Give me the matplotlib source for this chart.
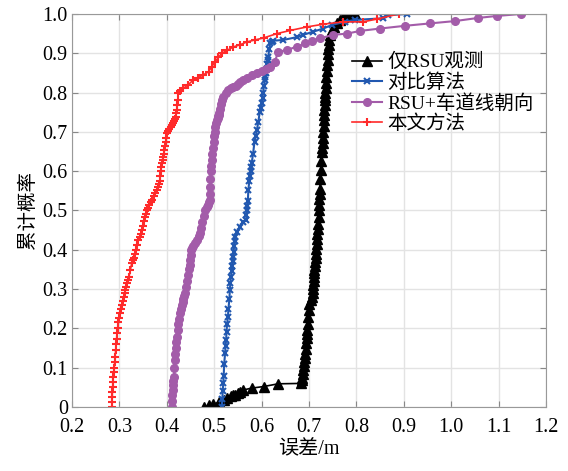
import matplotlib
matplotlib.use("Agg")
import matplotlib.pyplot as plt

plt.rcParams['font.family'] = ['Liberation Serif', 'Noto Sans CJK SC', 'DejaVu Sans']
plt.rcParams['axes.unicode_minus'] = False

# CDF curves (error in m, cumulative probability)
blk_x = [0.478, 0.490, 0.498, 0.510, 0.520, 0.526, 0.535, 0.540, 0.544, 0.550,
         0.554, 0.560, 0.579, 0.604, 0.635, 0.684, 0.685, 0.686, 0.687, 0.688,
         0.689, 0.690, 0.691, 0.692, 0.693, 0.694, 0.695, 0.695, 0.696, 0.697,
         0.698, 0.699, 0.701, 0.704, 0.706, 0.708, 0.709, 0.709, 0.710, 0.711,
         0.711, 0.711, 0.712, 0.713, 0.714, 0.714, 0.715, 0.716, 0.717, 0.717,
         0.718, 0.719, 0.720, 0.721, 0.722, 0.722, 0.723, 0.723, 0.724, 0.725,
         0.726, 0.727, 0.728, 0.729, 0.730, 0.730, 0.731, 0.731, 0.732, 0.732,
         0.733, 0.733, 0.734, 0.734, 0.735, 0.735, 0.736, 0.737, 0.738, 0.739,
         0.740, 0.741, 0.742, 0.743, 0.745, 0.748, 0.753, 0.758, 0.765, 0.772,
         0.780, 0.790, 0.797]
blk_p = [0.0, 0.004, 0.007, 0.012, 0.018, 0.022, 0.027, 0.030, 0.031, 0.036,
         0.039, 0.043, 0.048, 0.052, 0.059, 0.060, 0.068, 0.075, 0.085, 0.094,
         0.105, 0.115, 0.125, 0.135, 0.148, 0.162, 0.175, 0.185, 0.197, 0.21,
         0.228, 0.247, 0.262, 0.272, 0.281, 0.289, 0.30, 0.31, 0.32, 0.33,
         0.34, 0.349, 0.36, 0.37, 0.38, 0.39, 0.403, 0.416, 0.428, 0.44,
         0.452, 0.465, 0.483, 0.501, 0.515, 0.53, 0.543, 0.555, 0.58, 0.603,
         0.625, 0.65, 0.66, 0.671, 0.685, 0.70, 0.715, 0.73, 0.743, 0.756,
         0.768, 0.78, 0.79, 0.80, 0.812, 0.824, 0.84, 0.855, 0.87, 0.883,
         0.897, 0.91, 0.922, 0.934, 0.947, 0.959, 0.968, 0.976, 0.985, 0.993,
         0.996, 0.998, 1.0]

blu_x = [0.516, 0.517, 0.518, 0.519, 0.520, 0.521, 0.523, 0.524, 0.525, 0.526,
         0.527, 0.529, 0.530, 0.532, 0.533, 0.534, 0.535, 0.537, 0.538, 0.539,
         0.540, 0.541, 0.542, 0.543, 0.544, 0.549, 0.554, 0.560, 0.567, 0.568,
         0.569, 0.570, 0.571, 0.572, 0.574, 0.575, 0.577, 0.578, 0.579, 0.582,
         0.585, 0.588, 0.590, 0.593, 0.596, 0.598, 0.600, 0.602, 0.603, 0.605,
         0.607, 0.608, 0.609, 0.611, 0.612, 0.613, 0.614, 0.616, 0.618, 0.621,
         0.625, 0.646, 0.674, 0.688, 0.709, 0.730, 0.748, 0.775, 0.797, 0.857,
         0.867, 0.906]
blu_p = [0.0, 0.02, 0.04, 0.06, 0.08, 0.11, 0.137, 0.155, 0.17, 0.19,
         0.21, 0.23, 0.25, 0.275, 0.298, 0.315, 0.33, 0.345, 0.36, 0.372,
         0.382, 0.395, 0.41, 0.422, 0.433, 0.446, 0.459, 0.47, 0.476, 0.488,
         0.50, 0.512, 0.525, 0.552, 0.575, 0.587, 0.60, 0.61, 0.620, 0.645,
         0.675, 0.69, 0.705, 0.725, 0.75, 0.762, 0.773, 0.787, 0.80, 0.816,
         0.832, 0.84, 0.85, 0.861, 0.872, 0.882, 0.891, 0.91, 0.925, 0.929,
         0.932, 0.934, 0.941, 0.947, 0.955, 0.963, 0.972, 0.98, 0.985, 0.989,
         0.997, 1.0]

pur_x = [0.410, 0.410, 0.411, 0.412, 0.413, 0.414, 0.415, 0.416, 0.417, 0.418,
         0.419, 0.420, 0.421, 0.423, 0.424, 0.426, 0.428, 0.430, 0.432, 0.434,
         0.435, 0.437, 0.438, 0.440, 0.442, 0.444, 0.446, 0.448, 0.449, 0.451,
         0.452, 0.454, 0.456, 0.460, 0.463, 0.467, 0.470, 0.473, 0.475, 0.478,
         0.481, 0.484, 0.486, 0.489, 0.491, 0.491, 0.492, 0.492, 0.493, 0.494,
         0.495, 0.496, 0.497, 0.499, 0.500, 0.501, 0.502, 0.504, 0.505, 0.507,
         0.508, 0.510, 0.511, 0.513, 0.515, 0.517, 0.519, 0.524, 0.530, 0.535,
         0.540, 0.545, 0.550, 0.555, 0.561, 0.570, 0.580, 0.590, 0.600, 0.610,
         0.618, 0.628, 0.635, 0.653, 0.674, 0.692, 0.706, 0.723, 0.751, 0.780,
         0.808, 0.850, 0.903, 0.955, 1.008, 1.057, 1.096, 1.147]
pur_p = [0.0, 0.015, 0.03, 0.042, 0.055, 0.066, 0.077, 0.098, 0.12, 0.135,
         0.15, 0.165, 0.179, 0.195, 0.21, 0.224, 0.238, 0.249, 0.26, 0.268,
         0.275, 0.282, 0.289, 0.305, 0.32, 0.335, 0.35, 0.362, 0.374, 0.387,
         0.399, 0.404, 0.41, 0.418, 0.425, 0.434, 0.442, 0.456, 0.47, 0.486,
         0.501, 0.508, 0.515, 0.521, 0.527, 0.543, 0.56, 0.58, 0.60, 0.614,
         0.628, 0.644, 0.66, 0.675, 0.69, 0.70, 0.713, 0.722, 0.73, 0.735,
         0.74, 0.744, 0.747, 0.758, 0.77, 0.78, 0.790, 0.80, 0.807, 0.812,
         0.815, 0.818, 0.822, 0.827, 0.832, 0.838, 0.844, 0.849, 0.855, 0.861,
         0.866, 0.879, 0.904, 0.908, 0.917, 0.925, 0.932, 0.938, 0.947, 0.95,
         0.957, 0.963, 0.970, 0.976, 0.982, 0.99, 0.995, 1.0]

red_x = [0.284, 0.284, 0.285, 0.285, 0.286, 0.286, 0.287, 0.288, 0.289, 0.290,
         0.291, 0.292, 0.293, 0.294, 0.295, 0.296, 0.298, 0.300, 0.301, 0.303,
         0.305, 0.307, 0.309, 0.311, 0.312, 0.314, 0.316, 0.318, 0.320, 0.323,
         0.326, 0.328, 0.330, 0.333, 0.335, 0.338, 0.340, 0.343, 0.345, 0.348,
         0.350, 0.352, 0.354, 0.357, 0.359, 0.361, 0.363, 0.366, 0.368, 0.372,
         0.375, 0.379, 0.382, 0.384, 0.385, 0.386, 0.387, 0.388, 0.389, 0.391,
         0.392, 0.394, 0.395, 0.397, 0.398, 0.399, 0.400, 0.403, 0.405, 0.408,
         0.410, 0.413, 0.415, 0.417, 0.419, 0.420, 0.421, 0.422, 0.423, 0.424,
         0.428, 0.435, 0.445, 0.456, 0.466, 0.477, 0.488, 0.495, 0.502, 0.509,
         0.516, 0.528, 0.540, 0.555, 0.569, 0.586, 0.604, 0.632, 0.660, 0.695,
         0.730, 0.772, 0.814, 0.843, 0.889]
red_p = [0.0, 0.012, 0.025, 0.037, 0.05, 0.063, 0.077, 0.088, 0.10, 0.114,
         0.128, 0.144, 0.160, 0.173, 0.187, 0.20, 0.215, 0.227, 0.238, 0.249,
         0.26, 0.27, 0.28, 0.289, 0.298, 0.306, 0.315, 0.322, 0.33, 0.348,
         0.366, 0.373, 0.38, 0.39, 0.40, 0.412, 0.425, 0.432, 0.44, 0.45,
         0.46, 0.472, 0.484, 0.492, 0.50, 0.507, 0.515, 0.521, 0.527, 0.536,
         0.545, 0.552, 0.560, 0.567, 0.575, 0.587, 0.60, 0.61, 0.620, 0.628,
         0.637, 0.645, 0.654, 0.664, 0.675, 0.685, 0.696, 0.701, 0.707, 0.712,
         0.718, 0.723, 0.728, 0.733, 0.739, 0.747, 0.755, 0.768, 0.782, 0.798,
         0.805, 0.811, 0.82, 0.832, 0.838, 0.845, 0.853, 0.866, 0.879, 0.89,
         0.90, 0.908, 0.916, 0.922, 0.929, 0.934, 0.939, 0.95, 0.958, 0.967,
         0.974, 0.98, 0.98, 0.987, 1.0]

labels = ['仅RSU观测', '对比算法', 'RSU+车道线朝向', '本文方法']
x_ticks = [0.2, 0.3, 0.4, 0.5, 0.6, 0.7, 0.8, 0.9, 1.0, 1.1, 1.2]
y_ticks = [0, 0.1, 0.2, 0.3, 0.4, 0.5, 0.6, 0.7, 0.8, 0.9, 1.0]

fig = plt.figure(figsize=(5.68, 4.71), dpi=100)
ax = fig.add_axes([0.1268, 0.1359, 0.8345, 0.8344])

ax.plot(blk_x, blk_p, color='black', lw=1.2, marker='^', ms=6.5, label=labels[0])
ax.plot(blu_x, blu_p, color='#2158b0', lw=1.5, marker='x', ms=4, mew=1.5, label=labels[1])
ax.plot(pur_x, pur_p, color='#a35ca9', lw=1.5, marker='o', ms=5.5, label=labels[2])
ax.plot(red_x, red_p, color='#ff2a2a', lw=1.2, marker='+', ms=5.5, mew=1.5, label=labels[3])

ax.set_xlim(0.2, 1.2)
ax.set_ylim(0, 1.0)
ax.set_xticks(x_ticks)
ax.set_xticklabels(['%.1f' % v for v in x_ticks])
ax.set_yticks(y_ticks)
ax.set_yticklabels(['0'] + ['%.1f' % v for v in y_ticks[1:]])
ax.tick_params(direction='in', length=4, top=True, right=True, labelsize=14.5,
               color='#888888')
ax.tick_params(axis='x', pad=8)
ax.tick_params(axis='y', pad=3)
ax.grid(True, color='#e3e3e3', lw=1)
ax.set_axisbelow(True)
for s in ax.spines.values():
    s.set_color('#999999')

ax.set_xlabel('误差/m', fontsize=14.5, labelpad=2)
ax.set_ylabel('累计概率', fontsize=14, labelpad=4)

ax.legend(loc='upper left', bbox_to_anchor=(0.575, 0.92), frameon=False,
          fontsize=14, handlelength=1.5, handletextpad=0.3, labelspacing=0.1,
          borderaxespad=0)

fig.savefig('out.png', dpi=100)
